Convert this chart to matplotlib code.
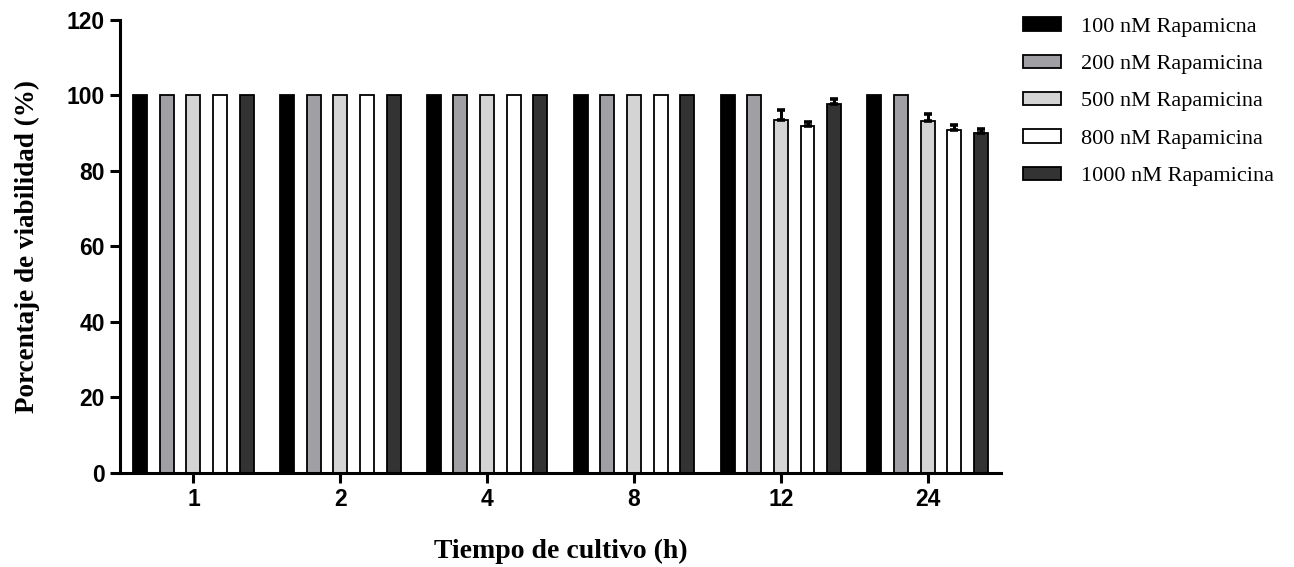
import numpy as np
import matplotlib.pyplot as plt

# tiempos de cultivo (h)
tiempos = ['1', '2', '4', '8', '12', '24']
series = ['100 nM Rapamicna', '200 nM Rapamicina', '500 nM Rapamicina',
          '800 nM Rapamicina', '1000 nM Rapamicina']

v100 = [100, 100, 100, 100, 100, 100]
v200 = [100, 100, 100, 100, 100, 100]
v500 = [100, 100, 100, 100, 93.5, 93.2]
v800 = [100, 100, 100, 100, 91.8, 90.8]
v1000 = [100, 100, 100, 100, 97.6, 90.0]

e100 = [0, 0, 0, 0, 0, 0]
e200 = [0, 0, 0, 0, 0, 0]
e500 = [0, 0, 0, 0, 2.6, 1.8]
e800 = [0, 0, 0, 0, 1.2, 1.3]
e1000 = [0, 0, 0, 0, 1.5, 1.0]

valores = [v100, v200, v500, v800, v1000]
errores = [e100, e200, e500, e800, e1000]
colores = ['#000000', '#a0a0a4', '#d4d4d4', '#ffffff', '#333333']

fig = plt.figure(figsize=(12.94, 5.67), dpi=100)
ax = fig.add_axes([0.0927, 0.166, 0.681, 0.799])

x = np.arange(len(tiempos))
paso = 0.1815
ancho = 0.095

for i in range(len(series)):
    pos = x + (i - 2) * paso
    ax.bar(pos, valores[i], width=ancho, color=colores[i], edgecolor='black',
           linewidth=1.3, label=series[i])
    # solo la barra de error hacia arriba
    mask = np.array(errores[i]) > 0
    if mask.any():
        ax.errorbar(pos[mask], np.array(valores[i])[mask],
                    yerr=[np.zeros(mask.sum()), np.array(errores[i])[mask]],
                    fmt='none', ecolor='black', elinewidth=2.2, capsize=3,
                    capthick=2.6)

ax.set_xlim(-0.5, 5.5)
ax.set_ylim(0, 120)
ax.set_yticks([0, 20, 40, 60, 80, 100, 120])
ax.set_xticks(x)
ax.set_xticklabels(tiempos)

for s in ['top', 'right']:
    ax.spines[s].set_visible(False)
for s in ['left', 'bottom']:
    ax.spines[s].set_linewidth(2.2)

ax.tick_params(axis='both', width=2.2, length=7, direction='out', pad=4)
for lab in ax.get_xticklabels() + ax.get_yticklabels():
    lab.set_fontfamily('Liberation Sans')
    lab.set_fontweight('bold')
    lab.set_fontsize(16.5)

ax.set_ylabel('Porcentaje de viabilidad (%)', fontfamily='Liberation Serif',
              fontweight='bold', fontsize=19.5, labelpad=19)
ax.set_xlabel('Tiempo de cultivo (h)', fontfamily='Liberation Serif',
              fontweight='bold', fontsize=20, labelpad=20)

leg = ax.legend(loc='upper left', bbox_to_anchor=(1.002, 1.05), frameon=False,
                prop={'family': 'Liberation Serif', 'size': 16},
                handlelength=1.7, handleheight=0.55, labelspacing=0.8,
                handletextpad=0.9)

plt.savefig('out.png', dpi=100)
